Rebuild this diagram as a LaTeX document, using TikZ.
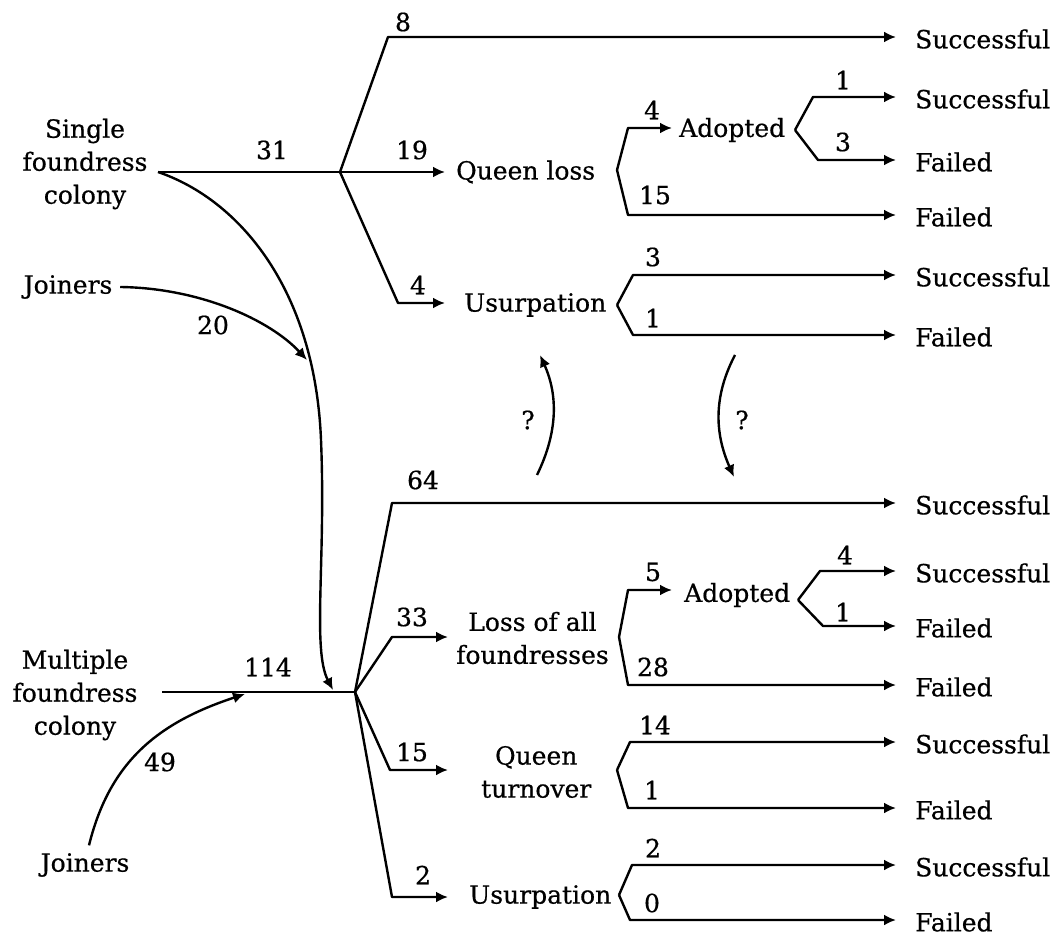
\documentclass[tikz,border=0pt]{standalone}
\usepackage{fontspec}
\setmainfont{DejaVu Serif}[FakeBold=0.6]
\usetikzlibrary{arrows.meta}

\begin{document}
\begin{tikzpicture}[x=0.5pt, y=-0.5pt, line width=1.2pt, line join=round,
    every node/.style={font=\fontsize{12.5}{16.5}\selectfont},
    lbl/.style={inner sep=0pt},
    mid/.style={anchor=west, inner sep=0pt, align=center},
    outcome/.style={anchor=west, inner sep=0pt},
    arr/.style={-{Latex[length=6pt,width=5.5pt]}, shorten >=#1},
    arr/.default=0pt]
    % 参数设置
    \def\xo{914} % 结果文字的左端

    \useasboundingbox (0,0) rectangle (1053,935);

    % 起点
    \node[align=center] (single) at (85,164) {Single\\foundress\\colony};
    \node[align=center] (multi) at (75,695) {Multiple\\foundress\\colony};
    \node (join1) at (68,287) {Joiners};
    \node (join2) at (85,865) {Joiners};

    % 中间状态
    \node[mid] (ql) at (455,172) {Queen loss};
    \node[mid] (us1) at (463,305) {Usurpation};
    \node[mid] (ad1) at (678,130) {Adopted};
    \node[mid] (la) at (455,638) {Loss of all\\foundresses};
    \node[mid] (qt) at (480,772) {Queen\\turnover};
    \node[mid] (us2) at (468,897) {Usurpation};
    \node[mid] (ad2) at (683,595) {Adopted};

    % 结果
    \foreach \nm/\y/\t in {s1/37/Successful, s2/97/Successful, f1/160/Failed,
        f2/215/Failed, s3/275/Successful, f3/335/Failed,
        s4/503/Successful, s5/571/Successful, f4/626/Failed, f5/685/Failed,
        s6/742/Successful, f6/808/Failed, s7/865/Successful, f7/920/Failed}
      \node[outcome] (\nm) at (\xo,\y+2) {\t};

    % 分支点和拐点
    \coordinate (sfc) at (158,172);
    \coordinate (mfc) at (162,692);
    \coordinate (b1) at (340,172);
    \coordinate (b2) at (355,692);
    \coordinate (b2in) at (333,690);
    \coordinate (jt) at (307,360);
    \coordinate (j2t) at (245,694);
    \coordinate (c8) at (388,37);
    \coordinate (c4) at (398,303);
    \coordinate (c64) at (392,503);
    \coordinate (c33) at (392,637);
    \coordinate (c15) at (390,770);
    \coordinate (c2) at (392,897);
    \coordinate (qv) at (617,170);  \coordinate (qa) at (628,128);  \coordinate (qb) at (628,215);
    \coordinate (av) at (795,130);  \coordinate (aa) at (813,97);   \coordinate (ab) at (818,160);
    \coordinate (uv) at (617,305);  \coordinate (ua) at (633,275);  \coordinate (ub) at (633,335);
    \coordinate (lv) at (619,637);  \coordinate (lva) at (628,590); \coordinate (lvb) at (628,685);
    \coordinate (a2v) at (798,600); \coordinate (a2a) at (820,571); \coordinate (a2b) at (823,626);
    \coordinate (tv) at (617,770);  \coordinate (tva) at (630,742); \coordinate (tvb) at (628,808);
    \coordinate (u2v) at (619,895); \coordinate (u2a) at (632,865); \coordinate (u2b) at (630,920);

    % 单雌建巢
    \draw (sfc) -- (b1);
    \draw[arr=9pt] (b1) -- (c8) -- (c8 -| s1.west);
    \draw[arr=5pt] (b1) -- (b1 -| ql.west);
    \draw[arr=9pt] (b1) -- (c4) -- (c4 -| us1.west);
    \draw[arr=3pt] (qv) -- (qa) -- (qa -| ad1.west);
    \draw[arr=9pt] (qv) -- (qb) -- (qb -| f2.west);
    \draw[arr=9pt] (av) -- (aa) -- (aa -| s2.west);
    \draw[arr=9pt] (av) -- (ab) -- (ab -| f1.west);
    \draw[arr=9pt] (uv) -- (ua) -- (ua -| s3.west);
    \draw[arr=9pt] (uv) -- (ub) -- (ub -| f3.west);

    % 多雌建巢
    \draw (mfc) -- (b2);
    \draw[arr=9pt] (b2) -- (c64) -- (c64 -| s4.west);
    \draw[arr=3.5pt] (b2) -- (c33) -- (c33 -| la.west);
    \draw[arr=16pt] (b2) -- (c15) -- (c15 -| qt.west);
    \draw[arr=10pt] (b2) -- (c2) -- (c2 -| us2.west);
    \draw[arr=5.5pt] (lv) -- (lva) -- (lva -| ad2.west);
    \draw[arr=9pt] (lv) -- (lvb) -- (lvb -| f5.west);
    \draw[arr=9pt] (a2v) -- (a2a) -- (a2a -| s5.west);
    \draw[arr=9pt] (a2v) -- (a2b) -- (a2b -| f4.west);
    \draw[arr=9pt] (tv) -- (tva) -- (tva -| s6.west);
    \draw[arr=9pt] (tv) -- (tvb) -- (tvb -| f6.west);
    \draw[arr=9pt] (u2v) -- (u2a) -- (u2a -| s7.west);
    \draw[arr=9pt] (u2v) -- (u2b) -- (u2b -| f7.west);

    % 加入者和转移
    \draw[arr] (sfc) .. controls (240,200) and (315,290) .. (321,440)
      .. controls (326,560) and (312,650) .. (b2in);
    \draw[arr] (join1.east) .. controls (200,288) and (270,320) .. (jt);
    \draw[arr] ([xshift=2pt]join2.north) .. controls (110,760) and (160,722) .. (j2t);

    % 问号箭头
    \coordinate (q1s) at (537,475); \coordinate (q1e) at (540,355);
    \coordinate (q2s) at (735,355); \coordinate (q2e) at (734,477);
    \draw[arr] (q1s) .. controls (558,432) and (558,395) .. (q1e);
    \draw[arr] (q2s) .. controls (714,395) and (714,432) .. (q2e);
    \node (qm1) at (528,420) {?};
    \node (qm2) at (742,420) {?};

    % 数字标注
    \foreach \nm/\x/\y/\v in {n8/403/22/8, n31/272/150/31, n19/412/150/19,
        n4a/418/285/4, n4b/652/110/4, n15a/655/195/15, n1a/843/80/1,
        n3a/843/142/3, n3b/653/257/3, n1b/653/318/1, n20/213/325/20,
        n64/423/480/64, n114/268/667/114, n33/412/617/33, n15b/412/752/15,
        n2a/423/875/2, n5/653/572/5, n28/653/667/28, n4c/845/555/4,
        n1c/843/612/1, n14/655/725/14, n1d/652/790/1, n2b/653/848/2,
        n0/652/903/0, n49/160/762/49}
      \node[lbl] (\nm) at (\x,\y) {\v};
\end{tikzpicture}
\end{document}
